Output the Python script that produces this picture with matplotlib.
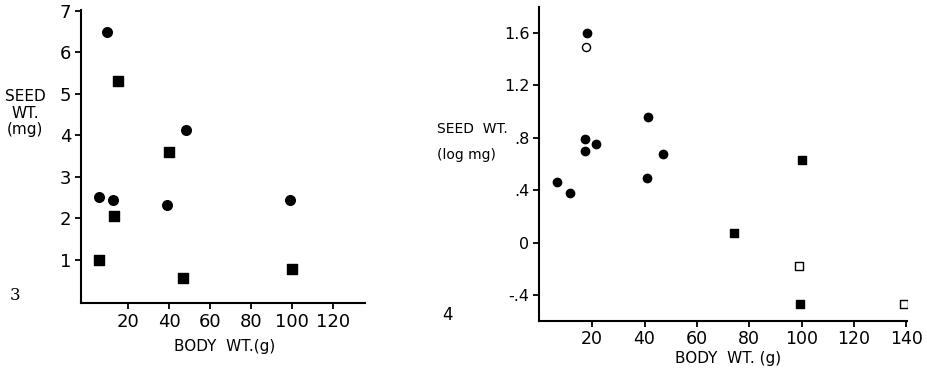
import matplotlib
matplotlib.use("Agg")
import matplotlib.pyplot as plt

# Panel 3 data (body wt g, seed wt mg)
p3_circle_x = [10, 6, 12.5, 39, 48.5, 99]
p3_circle_y = [6.5, 2.52, 2.43, 2.31, 4.13, 2.45]
p3_square_x = [15, 40, 13, 6, 47, 100]
p3_square_y = [5.3, 3.61, 2.06, 1.0, 0.57, 0.78]

# Panel 4 data (body wt g, seed wt log mg)
p4_circle_x = [18.2, 17.3, 17.3, 21.4, 6.4, 11.5, 41.3, 41.1, 47.2]
p4_circle_y = [1.60, 0.787, 0.70, 0.75, 0.465, 0.376, 0.955, 0.495, 0.673]
p4_open_circle_x = [17.6]
p4_open_circle_y = [1.493]
p4_square_x = [100, 74.1, 99.5]
p4_square_y = [0.63, 0.072, -0.469]
p4_open_square_x = [99.1, 139.2]
p4_open_square_y = [-0.175, -0.469]

p3_xticks = [20, 40, 60, 80, 100, 120]
p3_yticks = [1, 2, 3, 4, 5, 6, 7]
p4_xticks = [20, 40, 60, 80, 100, 120, 140]
p4_yticks = [-0.4, 0, 0.4, 0.8, 1.2, 1.6]
p4_ytick_labels = ["-.4", "0", ".4", ".8", "1.2", "1.6"]

plt.rcParams['font.family'] = ['DejaVu Sans']

fig = plt.figure(figsize=(9.27, 3.69), dpi=100)

def style(ax):
    for s in ['top', 'right']:
        ax.spines[s].set_visible(False)
    for s in ['left', 'bottom']:
        ax.spines[s].set_linewidth(1.5)
    ax.tick_params(direction='out', length=4, width=1.3, pad=3)

# Left panel
ax1 = fig.add_axes([81/927, (369-303)/369, 284/927, 293/369])
style(ax1)
ax1.scatter(p3_circle_x, p3_circle_y, s=48, marker='o', color='black', zorder=3)
ax1.scatter(p3_square_x, p3_square_y, s=52, marker='s', color='black', zorder=3)
ax1.set_xlim(-2.9, 135.6)
ax1.set_ylim(-0.04, 7.02)
ax1.set_xticks(p3_xticks)
ax1.set_yticks(p3_yticks)
ax1.tick_params(labelsize=13)
fig.text(25/927, 1 - 113/369, "SEED\nWT.\n(mg)", ha='center', va='center',
         fontsize=11, linespacing=1.1)
fig.text(10/927, 1 - 296/369, "3", ha='left', va='center', fontsize=12,
         family='DejaVu Serif')
fig.text(225/927, 1 - 347/369, "BODY  WT.(g)", ha='center', va='center', fontsize=11)

# Right panel
ax2 = fig.add_axes([539/927, (369-320.7)/369, 368/927, 313.7/369])
style(ax2)
ax2.scatter(p4_circle_x, p4_circle_y, s=36, marker='o', color='black', zorder=3)
ax2.scatter(p4_open_circle_x, p4_open_circle_y, s=34, marker='o', facecolor='white',
            edgecolor='black', linewidths=1.0, zorder=3)
ax2.scatter(p4_square_x, p4_square_y, s=40, marker='s', color='black', zorder=3)
ax2.scatter(p4_open_square_x, p4_open_square_y, s=40, marker='s', facecolor='white',
            edgecolor='black', linewidths=1.0, zorder=3)
ax2.set_xlim(-0.3, 140.2)
ax2.set_ylim(-0.594, 1.795)
ax2.set_xticks(p4_xticks)
ax2.set_yticks(p4_yticks)
ax2.set_yticklabels(p4_ytick_labels)
ax2.tick_params(axis='x', labelsize=12.5)
ax2.tick_params(axis='y', labelsize=11.5)
fig.text(437/927, 1 - 129/369, "SEED  WT.", ha='left', va='center', fontsize=10)
fig.text(437/927, 1 - 155/369, "(log mg)", ha='left', va='center', fontsize=10)
fig.text(442/927, 1 - 315/369, "4", ha='left', va='center', fontsize=12)
fig.text(728/927, 1 - 358/369, "BODY  WT. (g)", ha='center', va='center', fontsize=11)

fig.savefig("out.png", dpi=100)
